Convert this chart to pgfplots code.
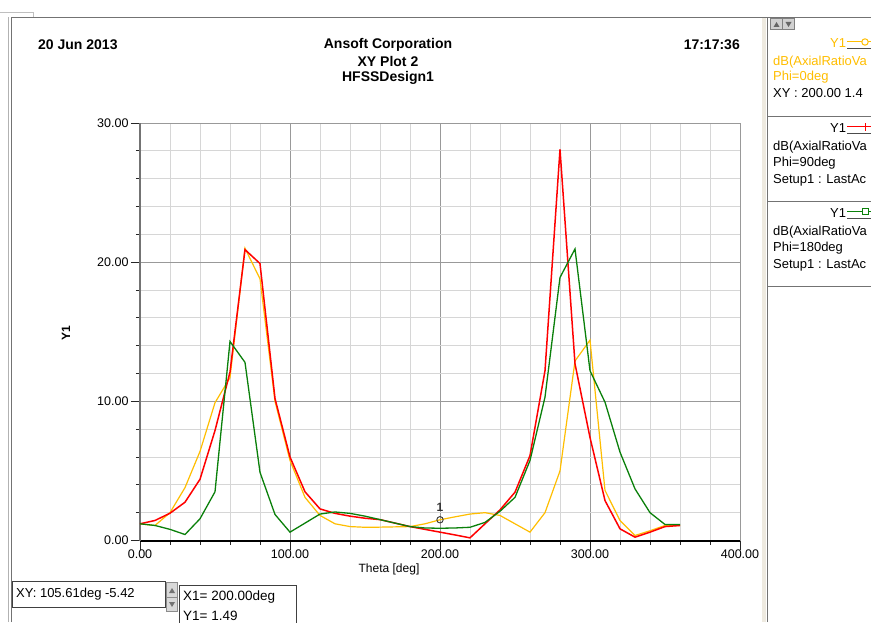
\documentclass[border=0pt]{standalone}
\usepackage{fontspec}
\setmainfont{Liberation Sans}
\usepackage{pgfplots}
\pgfplotsset{compat=1.18}

\definecolor{hfOrange}{RGB}{255,190,0}
\definecolor{hfRed}{RGB}{255,0,0}
\definecolor{hfGreen}{RGB}{10,128,10}
\definecolor{winBeige}{RGB}{238,234,224}

\begin{document}
\begin{tikzpicture}[x=1pt,y=1pt]
\useasboundingbox (0,0) rectangle (871,622);
\clip (0,0) rectangle (871,622);
\fill[white] (0,0) rectangle (871,622);

% window frame
\draw[black!25, line width=1pt] (0,609.5) -- (33,609.5) -- (33,605);
\draw[black!30, line width=1pt] (8.5,0) -- (8.5,605);
\draw[black!55, line width=1.6pt] (11.5,0) -- (11.5,604.5) -- (871,604.5);
\fill[winBeige] (762,0) rectangle (766,604);
\draw[black!55, line width=1.6pt] (767.5,0) -- (767.5,604.5);

% titles
\begin{scope}[every node/.style={font=\bfseries\fontsize{14}{16}\selectfont, inner sep=0pt}]
\node[anchor=west] at (38,577) {20 Jun 2013};
\node at (388,577) {Ansoft Corporation};
\node at (388,561) {XY Plot 2};
\node at (388,544) {HFSSDesign1};
\node[anchor=east] at (740,577) {17:17:36};
\end{scope}

\begin{axis}[
  at={(140pt,81.5pt)}, anchor=south west, scale only axis,
  width=600pt, height=417.5pt,
  xmin=0, xmax=400, ymin=0, ymax=30,
  xtick={0,100,...,400}, ytick={0,10,20,30},
  minor x tick num=4, minor y tick num=4,
  grid=both,
  major grid style={draw=black!40, line width=0.8pt},
  minor grid style={draw=black!16, line width=0.8pt},
  axis x line*=bottom, axis y line*=left,
  x axis line style={black, line width=2pt},
  y axis line style={black!55, line width=1.2pt},
  tick align=outside, major tick length=9pt, minor tick length=4pt,
  tick style={black!85, line width=0.8pt},
  ticklabel style={font=\fontsize{12.5}{14}\selectfont},
  xticklabel style={yshift=3pt},
  yticklabel style={xshift=1pt},
  clip=false,
  /pgf/number format/.cd, fixed, fixed zerofill, precision=2, assume math mode=true,
]
% Phi = 0deg
\addplot[hfOrange, line width=1.2pt] coordinates {
(0,1.2) (10,1.08) (20,2.0) (30,3.8) (40,6.4) (50,9.9) (60,11.7) (70,21.0) (80,18.8) (90,10.0)
(100,5.75) (110,3.1) (120,1.8) (130,1.2) (140,1.0) (150,0.95) (160,0.96) (170,0.98) (180,1.0) (190,1.2)
(200,1.49) (210,1.7) (220,1.9) (230,2.0) (240,1.8) (250,1.2) (260,0.6) (270,2.0) (280,5.0) (290,12.9)
(300,14.4) (310,3.6) (320,1.44) (330,0.36) (340,0.7) (350,1.08) (360,1.08)
};
% Phi = 90deg
\addplot[hfRed, line width=1.5pt] coordinates {
(0,1.2) (10,1.44) (20,1.96) (30,2.75) (40,4.4) (50,7.9) (60,12.1) (70,20.9) (80,19.9) (90,10.2)
(100,6.0) (110,3.5) (120,2.27) (130,1.95) (140,1.75) (150,1.6) (160,1.5) (170,1.25) (180,1.0) (190,0.8)
(200,0.6) (210,0.4) (220,0.19) (230,1.2) (240,2.2) (250,3.47) (260,6.1) (270,12.2) (280,28.1) (290,12.7)
(300,7.4) (310,2.87) (320,0.84) (330,0.24) (340,0.6) (350,1.0) (360,1.08)
};
% Phi = 180deg
\addplot[hfGreen, line width=1.3pt] coordinates {
(0,1.2) (10,1.08) (20,0.8) (30,0.43) (40,1.56) (50,3.5) (60,14.3) (70,12.8) (80,4.9) (90,1.87)
(100,0.6) (110,1.25) (120,1.9) (130,2.05) (140,1.95) (150,1.75) (160,1.5) (170,1.25) (180,1.0) (190,0.9)
(200,0.88) (210,0.9) (220,0.95) (230,1.3) (240,2.1) (250,3.1) (260,5.75) (270,10.3) (280,18.9) (290,20.95)
(300,12.2) (310,9.94) (320,6.35) (330,3.71) (340,2.0) (350,1.15) (360,1.15)
};
% marker 1
\addplot[only marks, mark=o, mark size=3.2pt, black!80, mark options={line width=0.9pt}] coordinates {(200,1.49)};
\node[font=\bfseries\fontsize{12}{12}\selectfont, black!80] at (axis cs:200,1.49) [yshift=12pt] {1};
\end{axis}

% axis labels
\node[font=\fontsize{12}{14}\selectfont] at (389,53) {Theta [deg]};
\node[font=\bfseries\fontsize{12}{14}\selectfont, rotate=90] at (66,289) {Y1};

% legend panel
\fill[black!18] (770,592) rectangle (795,604);
\draw[black!50] (770.5,592.5) rectangle (782.5,603.5);
\draw[black!50] (782.5,592.5) rectangle (794.5,603.5);
\fill[black!60] (773.5,595) -- (779.5,595) -- (776.5,600) -- cycle;
\fill[black!60] (785.5,600) -- (791.5,600) -- (788.5,595) -- cycle;
\draw[black!55, line width=1pt] (768,505) -- (871,505);
\draw[black!55, line width=1pt] (768,420.5) -- (871,420.5);
\draw[black!55, line width=1pt] (768,335.5) -- (871,335.5);

\begin{scope}[every node/.style={font=\fontsize{13}{15}\selectfont, inner sep=0pt, anchor=west}]
% entry 1
\node[hfOrange] at (830,579) {Y1};
\draw[black!70, line width=1pt] (847,573.5) -- (871,573.5);
\draw[hfOrange, line width=1pt] (847,580) -- (871,580);
\draw[hfOrange, line width=1pt, fill=white] (865,580) circle (3.2);
\node[hfOrange] at (773,560) {dB(AxialRatioVa};
\node[hfOrange] at (773,545) {Phi=0deg};
\node at (773,529) {XY : 200.00 1.4};
% entry 2
\node at (830,494) {Y1};
\draw[black!70, line width=1pt] (847,488.5) -- (871,488.5);
\draw[hfRed, line width=1pt] (847,495) -- (871,495);
\draw[hfRed, line width=1pt] (865,491) -- (865,499);
\node at (773,475) {dB(AxialRatioVa};
\node at (773,459) {Phi=90deg};
\node at (773,442) {Setup1 : LastAc};
% entry 3
\node at (830,409) {Y1};
\draw[black!70, line width=1pt] (847,403.5) -- (871,403.5);
\draw[hfGreen, line width=1pt] (847,410) -- (871,410);
\draw[hfGreen, line width=1pt, fill=white] (862,407) rectangle (868,413);
\node at (773,390) {dB(AxialRatioVa};
\node at (773,374) {Phi=180deg};
\node at (773,357) {Setup1 : LastAc};
\end{scope}

% bottom read-out boxes
\draw[black!75, line width=1pt] (12.5,40.5) rectangle (165,15);
\node[anchor=west, inner sep=0pt, font=\fontsize{13}{15}\selectfont] at (16,28) {XY: 105.61deg -5.42};
\fill[black!15] (166,10) rectangle (178,40);
\draw[black!45] (166.5,25) rectangle (177.5,39.5);
\draw[black!45] (166.5,10.5) rectangle (177.5,25);
\fill[black!55] (169,29) -- (175,29) -- (172,34) -- cycle;
\fill[black!55] (169,20) -- (175,20) -- (172,15) -- cycle;
\draw[black!75, line width=1pt] (179.5,-5) -- (179.5,36.5) -- (296.5,36.5) -- (296.5,-5);
\begin{scope}[every node/.style={font=\fontsize{13.5}{15}\selectfont, inner sep=0pt, anchor=west}]
\node at (183,25) {X1= 200.00deg};
\node at (183,6) {Y1= 1.49};
\end{scope}
\end{tikzpicture}
\end{document}
